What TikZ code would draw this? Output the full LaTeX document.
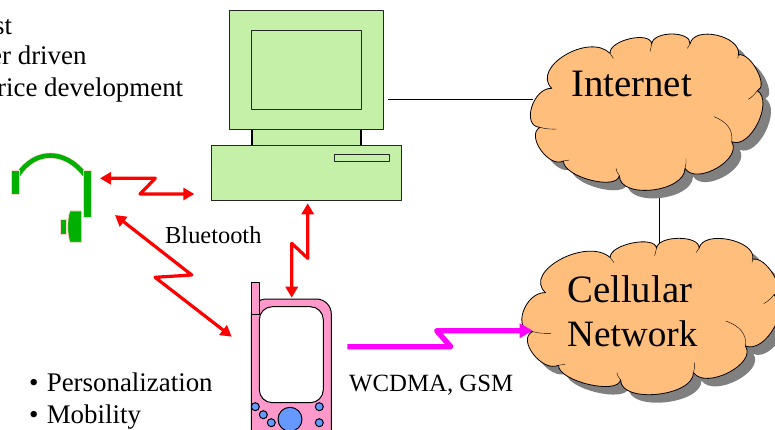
\documentclass[tikz,border=0pt]{standalone}
\usepackage{fontspec}
\setmainfont{Liberation Serif}
\usetikzlibrary{arrows.meta}
\definecolor{pcgreen}{HTML}{C4F1A7}
\definecolor{cloudfill}{HTML}{FFBE7B}
\definecolor{phonepink}{HTML}{FF99CC}
\definecolor{keyblue}{HTML}{6699FF}
\definecolor{headgreen}{HTML}{00B000}
\definecolor{headedge}{HTML}{FFD5D0}
\definecolor{linkmagenta}{HTML}{FF00FF}
\definecolor{linkred}{HTML}{FF0000}
\newcommand{\cloudpath}{(125,205) .. controls (68,203) and (33,320) .. (90,322)
	.. controls (46,345) and (116,446) .. (160,423)
	.. controls (160,471) and (320,513) .. (328,467)
	.. controls (328,539) and (525,517) .. (525,445)
	.. controls (558,498) and (698,418) .. (665,365)
	.. controls (720,390) and (792,245) .. (742,212)
	.. controls (778,201) and (721,94) .. (685,105)
	.. controls (696,48) and (551,15) .. (540,72)
	.. controls (544,32) and (429,32) .. (425,72)
	.. controls (422,32) and (297,60) .. (300,100)
	.. controls (237,37) and (62,142) .. (125,205) -- cycle}
\newcommand{\cloudat}[3]{%
	\begin{scope}[shift={(#1+8,#2+8)},x=#3pt,y=-.3333pt,shift={(-65,-42)}]
		\fill[cloudshadow] \cloudpath;
	\end{scope}
	\begin{scope}[shift={(#1,#2)},x=#3pt,y=-.3333pt,shift={(-65,-42)}]
		\draw[cloudbody] \cloudpath;
		\draw[thin] (90,322) .. controls (105,327) and (125,328) .. (140,327);
		\draw[thin] (160,423) -- (178,420);
		\draw[thin] (328,467) .. controls (322,460) and (319,452) .. (318,445);
		\draw[thin] (525,445) .. controls (528,435) and (529,425) .. (528,415);
		\draw[thin] (665,365) .. controls (670,330) and (650,305) .. (612,290);
		\draw[thin] (742,212) .. controls (735,222) and (725,232) .. (715,238);
		\draw[thin] (685,105) -- (683,115);
		\draw[thin] (540,72) -- (532,85);
		\draw[thin] (425,72) -- (420,95);
		\draw[thin] (300,100) -- (310,115);
	\end{scope}}
\tikzset{
	pcpart/.style={draw=black!85,fill=pcgreen,line width=.9pt},
	cloudbody/.style={draw=black,fill=cloudfill,line width=.8pt},
	cloudshadow/.style={fill=black!50},
	radiolink/.style={draw=linkred,line width=3.2pt,{Triangle[length=11pt,width=12pt]}-{Triangle[length=11pt,width=12pt]}},
	celllink/.style={draw=linkmagenta,line width=5.4pt,-{Triangle[length=13pt,width=14pt]}},
	wire/.style={draw=black,line width=.8pt},
	smalltext/.style={anchor=base west,inner sep=0pt,font=\fontsize{24.8}{28}\selectfont},
	bullettext/.style={anchor=base west,inner sep=0pt,font=\fontsize{26.9}{30}\selectfont},
	cloudtext/.style={anchor=base west,inner sep=0pt,font=\fontsize{38.8}{42}\selectfont},
	headpart/.style={fill=headgreen,draw=headedge,line width=.7pt},
	phonepart/.style={draw=black,fill=phonepink,line width=1pt},
	phonekey/.style={draw=black,fill=keyblue,line width=1pt}
}
\begin{document}
\begin{tikzpicture}[x=1pt,y=-1pt,>=stealth, line join = round, line cap = butt]
	\clip (0,0) rectangle (775,430);
	\fill[white] (0,0) rectangle (775,430);
	\coordinate (lanleft) at (388,99);
	\coordinate (lanright) at (533,99);
	\coordinate (coretop) at (659,195);
	\coordinate (corebottom) at (659,243);
	\draw[wire] (lanleft) -- (lanright);
	\draw[wire] (coretop) -- (corebottom);
	\cloudat{531.7}{34}{.3333}
	\cloudat{523.3}{238.3}{.37}
	\node[cloudtext] (internet) at (571,97) {Internet};
	\node[cloudtext] (cellular) at (567,302) {Cellular};
	\node[cloudtext,font=\fontsize{37.2}{42}\selectfont] (network) at (567,346) {Network};
	\draw[pcpart] (229.3,10.3) rectangle (383.3,129.7);
	\draw[pcpart] (251.7,30.3) rectangle (361,109.7);
	\fill[pcgreen] (252,129.7) rectangle (361,145.7);
	\draw[black,line width=1.3pt] (252,129.7) -- (252,145.7) (361,129.7) -- (361,145.7);
	\draw[pcpart] (211.3,145.7) rectangle (401.7,200.7);
	\draw[pcpart] (334.3,154.3) rectangle (389,161.3);
	\draw[headedge,line width=6pt] (18,175) .. controls (35,149) and (65,149) .. (85,175);
	\draw[headgreen,line width=4.6pt] (18,175) .. controls (35,149) and (65,149) .. (85,175);
	\draw[headpart] (11.7,170.7) rectangle (19.3,194.3);
	\draw[headpart] (83.3,170.7) rectangle (91,217.7);
	\draw[headpart] (60,219) rectangle (66.7,234.3);
	\draw[headpart] (70,211) -- (81.7,211) -- (81.7,242.3) -- (70,242.3) .. controls (67,235) and (67,218) .. (70,211) -- cycle;
	\draw[phonepart,rounded corners=15pt] (251.3,299) rectangle (331.3,445);
	\draw[phonepart] (251.3,282.7) rectangle (259.3,314.3);
	\draw[black,line width=1pt,fill=white,rounded corners=13pt] (259.3,306.7) rectangle (323.3,402.7);
	\foreach \i/\j in {255.3/406.7,263.3/414.7,271.3/422.7,319.3/406.7,319.3/422.7}
		\draw[phonekey] (\i,\j) circle (4);
	\draw[phonekey] (290,419.3) circle (12);
	\coordinate (headright) at (100,178.3);
	\coordinate (pcleft) at (194.3,194);
	\coordinate (headlow) at (115,215);
	\coordinate (phoneleft) at (231.7,336.7);
	\coordinate (pcbottom) at (307.7,203.3);
	\coordinate (phonetop) at (291.7,297.7);
	\coordinate (phoneright) at (347.3,346.7);
	\coordinate (cellleft) at (532.7,330.7);
	\draw[radiolink] (headright) -- (155.3,178.3) -- (140,194) -- (pcleft);
	\draw[radiolink] (headlow) -- (191.7,275) -- (155,277.3) -- (phoneleft);
	\draw[radiolink] (pcbottom) -- (307.7,258.3) -- (291.7,243.3) -- (phonetop);
	\draw[celllink] (phoneright) -- (450.7,346.7) -- (436.7,330.7) -- (cellleft);
	\node[smalltext,font=\fontsize{24.4}{28}\selectfont] (bluetooth) at (165,243) {Bluetooth};
	\node[smalltext] (wcdma) at (349,391) {WCDMA, GSM};
	\node[bullettext] (perso) at (29,391) {•\kern1.5pt\ Personalization};
	\node[bullettext] (mobil) at (29,423) {•\kern1.5pt\ Mobility};
	\node[bullettext] (topa) at (-6,35) {st};
	\node[bullettext] (topb) at (-10,65) {er driven};
	\node[bullettext] (topc) at (-3,97) {rice development};
\end{tikzpicture}
\end{document}
